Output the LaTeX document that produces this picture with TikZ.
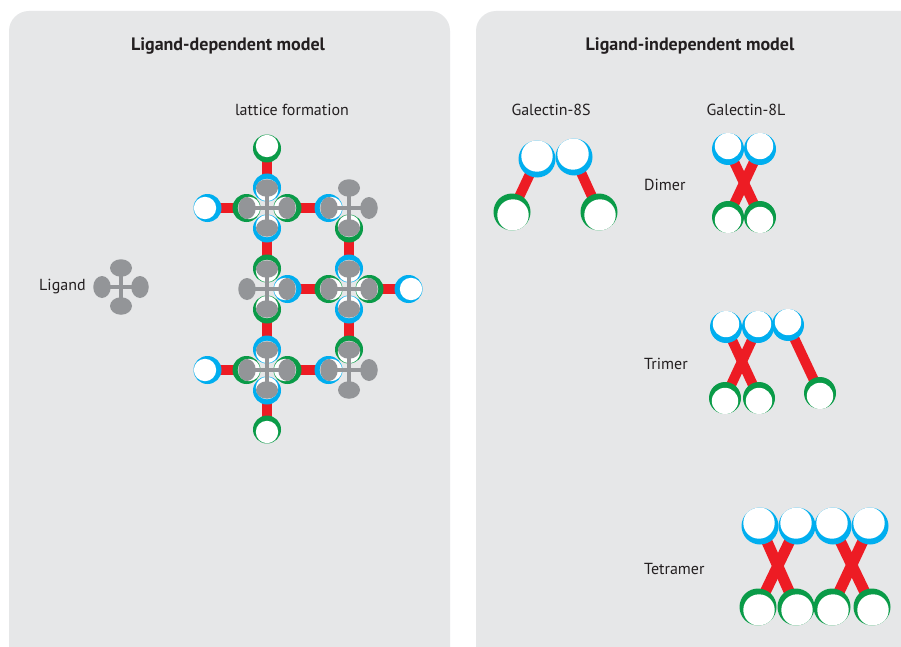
\documentclass[tikz,border=0pt]{standalone}
\usepackage{fontspec}
\setmainfont{PT Sans}
\usetikzlibrary{shapes.geometric,calc}

\definecolor{panelgray}{HTML}{E6E7E8}
\definecolor{crdblue}{HTML}{00AEEF}
\definecolor{crdgreen}{HTML}{0A9B48}
\definecolor{linkred}{HTML}{ED1C24}
\definecolor{ligandgray}{HTML}{939598}
\definecolor{inkgray}{HTML}{231F20}

\pgfdeclarelayer{bg}
\pgfdeclarelayer{link}
\pgfdeclarelayer{ligbar}
\pgfdeclarelayer{lig}
\pgfsetlayers{bg,link,main,ligbar,lig}

\tikzset{
  crd/.style n args={4}{circle, inner sep=0pt, outer sep=0pt,
    minimum size={2*#1pt}, fill=#2,
    path picture={\fill[white] ([shift={(#3,#4)}]path picture bounding box.center)
      circle [radius={#1pt-2.8pt}];}},
  linker/.style={draw=linkred, line width=#1},
  ligbar/.style={draw=ligandgray, line width=3.2pt},
  lobeh/.style={ellipse, inner sep=0pt, fill=ligandgray, minimum width=22pt, minimum height=17.5pt},
  lobev/.style={ellipse, inner sep=0pt, fill=ligandgray, minimum width=17.5pt, minimum height=22pt},
  heading/.style={inner sep=0pt, text=inkgray, font=\bfseries\fontsize{18}{21}\selectfont},
  captxt/.style={inner sep=0pt, text=inkgray, font=\fontsize{16}{19}\selectfont},
  panel/.style={fill=panelgray}
}

% carbohydrate-recognition domain: name, centre, radius, colour, offset of the white face
\newcommand\Crd[6]{\node[crd={#3}{#4}{#5}{#6}] (#1) at (#2) {};}
% red linker between two domains
\newcommand\GalLink[3][10]{\begin{pgfonlayer}{link}\draw[linker=#1pt] (#2.center) -- (#3.center);\end{pgfonlayer}}
% four-armed ligand: name, centre, arm length
\newcommand\Ligand[3]{%
  \coordinate (#1) at (#2);
  \begin{pgfonlayer}{lig}
    \node[lobeh] (#1-n) at ($(#1)+(0,-#3)$) {};
    \node[lobeh] (#1-s) at ($(#1)+(0,#3)$) {};
    \node[lobev] (#1-w) at ($(#1)+(-#3,0)$) {};
    \node[lobev] (#1-e) at ($(#1)+(#3,0)$) {};
  \end{pgfonlayer}
  \begin{pgfonlayer}{ligbar}
    \draw[ligbar] (#1-n.center) -- (#1-s.center);
    \draw[ligbar] (#1-w.center) -- (#1-e.center);
  \end{pgfonlayer}}

\begin{document}
\begin{tikzpicture}[x=1pt,y=-1pt]
\useasboundingbox (0,0) rectangle (901,647);

% panels
\begin{pgfonlayer}{bg}
\fill[white] (0,0) rectangle (901,647);
\fill[panel] (9,647) {[rounded corners=20pt] -- (9,11) -- (450,11)} -- (450,647) -- cycle;
\fill[panel] (476,647) {[rounded corners=20pt] -- (476,11)} -- (901,11) -- (901,647) -- cycle;
\end{pgfonlayer}

% headings and captions
\node[heading] (t1) at (228,46) {Ligand-dependent model};
\node[heading] (t2) at (690,46) {Ligand-independent model};
\node[captxt] (lf) at (292,110) {lattice formation};
\node[captxt, anchor=west] (lig) at (39,287) {Ligand};
\node[captxt] (g8s) at (551,110) {Galectin-8S};
\node[captxt] (g8l) at (746,110) {Galectin-8L};
\node[captxt, anchor=west] (dim) at (644,185) {Dimer};
\node[captxt, anchor=west] (tri) at (644,364) {Trimer};
\node[captxt, anchor=west] (tet) at (644,569) {Tetramer};

% single ligand
\Ligand{L0}{121,287}{19}

% ---- lattice ----
\Ligand{A}{267,208}{20}
\Ligand{B}{349,208}{20}
\Ligand{C}{267,289}{20}
\Ligand{D}{349,289}{20}
\Ligand{E}{267,370}{20}
\Ligand{F}{349,370}{20}

% galectins in the lattice (blue end, green end)
\Crd{An}{267,187.5}{14}{crdblue}{0}{2.5}
\Crd{f1}{267,148.5}{14}{crdgreen}{0}{-2.5}
\GalLink{An}{f1}

\Crd{Aw}{246.5,208}{14}{crdgreen}{2.5}{0}
\Crd{f2}{207.5,208}{14}{crdblue}{-2.5}{0}
\GalLink{Aw}{f2}

\Crd{Ae}{287.5,208}{14}{crdgreen}{-2.5}{0}
\Crd{Bw}{328.5,208}{14}{crdblue}{2.5}{0}
\GalLink{Ae}{Bw}

\Crd{As}{267,228.5}{14}{crdblue}{0}{-2.5}
\Crd{Cn}{267,268.5}{14}{crdgreen}{0}{2.5}
\GalLink{As}{Cn}

\Crd{Bs}{349,228.5}{14}{crdgreen}{0}{-2.5}
\Crd{Dn}{349,268.5}{14}{crdblue}{0}{2.5}
\GalLink{Bs}{Dn}

\Crd{Ce}{287.5,289}{14}{crdblue}{-2.5}{0}
\Crd{Dw}{328.5,289}{14}{crdgreen}{2.5}{0}
\GalLink{Ce}{Dw}

\Crd{Cs}{267,309.5}{14}{crdgreen}{0}{-2.5}
\Crd{En}{267,349.5}{14}{crdblue}{0}{2.5}
\GalLink{Cs}{En}

\Crd{De}{369.5,289}{14}{crdgreen}{-2.5}{0}
\Crd{f3}{408.5,289}{14}{crdblue}{2.5}{0}
\GalLink{De}{f3}

\Crd{Ds}{349,309.5}{14}{crdblue}{0}{-2.5}
\Crd{Fn}{349,349.5}{14}{crdgreen}{0}{2.5}
\GalLink{Ds}{Fn}

\Crd{Ew}{246.5,370}{14}{crdgreen}{2.5}{0}
\Crd{f4}{207.5,370}{14}{crdblue}{-2.5}{0}
\GalLink{Ew}{f4}

\Crd{Ee}{287.5,370}{14}{crdgreen}{-2.5}{0}
\Crd{Fw}{328.5,370}{14}{crdblue}{2.5}{0}
\GalLink{Ee}{Fw}

\Crd{Es}{267,390.5}{14}{crdblue}{0}{-2.5}
\Crd{f5}{267,429.5}{14}{crdgreen}{0}{2.5}
\GalLink{Es}{f5}

% ---- Galectin-8S ----
\Crd{sb1}{537,159}{18.5}{crdblue}{0}{-3}
\Crd{sb2}{574,157}{18.5}{crdblue}{-1}{-3}
\Crd{sg1}{512,212}{18.5}{crdgreen}{1}{3}
\Crd{sg2}{599,212}{18.5}{crdgreen}{1}{3}
\GalLink{sb1}{sg1}
\GalLink{sb2}{sg2}

% ---- Galectin-8L dimer ----
\Crd{db1}{728,149}{16}{crdblue}{0}{-3}
\Crd{db2}{760,149}{16}{crdblue}{0}{-3}
\Crd{dg1}{728,217}{16}{crdgreen}{0}{3}
\Crd{dg2}{760,217}{16}{crdgreen}{0}{3}
\GalLink{db1}{dg2}
\GalLink{db2}{dg1}

% ---- trimer ----
\Crd{tb1}{726,327}{16}{crdblue}{0}{-3}
\Crd{tb2}{758,327}{16}{crdblue}{0}{-3}
\Crd{tb3}{788,325}{16}{crdblue}{0}{-3}
\Crd{tg1}{725,398}{16}{crdgreen}{0}{3}
\Crd{tg2}{759,398}{16}{crdgreen}{0}{3}
\Crd{tg3}{820,393}{16}{crdgreen}{0}{3}
\GalLink{tb1}{tg2}
\GalLink{tb2}{tg1}
\GalLink{tb3}{tg3}

% ---- tetramer ----
\Crd{qb1}{760,526}{18.5}{crdblue}{-1}{-3}
\Crd{qb2}{797,526}{18.5}{crdblue}{-1}{-3}
\Crd{qb3}{833,526}{18.5}{crdblue}{-1}{-3}
\Crd{qb4}{870,526}{18.5}{crdblue}{-1}{-3}
\Crd{qg1}{758,607}{18.5}{crdgreen}{1}{3}
\Crd{qg2}{796,607}{18.5}{crdgreen}{1}{3}
\Crd{qg3}{832,607}{18.5}{crdgreen}{1}{3}
\Crd{qg4}{872,607}{18.5}{crdgreen}{1}{3}
\GalLink[11]{qb1}{qg2}
\GalLink[11]{qb2}{qg1}
\GalLink[11]{qb3}{qg4}
\GalLink[11]{qb4}{qg3}
\end{tikzpicture}
\end{document}
